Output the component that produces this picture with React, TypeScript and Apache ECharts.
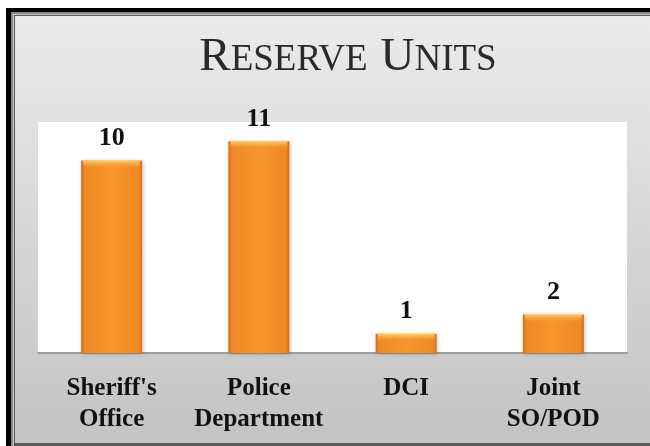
import React, { useEffect, useRef } from "react";
import * as echarts from "echarts";

const categories = ["Sheriff's\nOffice", "Police\nDepartment", "DCI", "Joint\nSO/POD"];
const values = [10, 11, 1, 2];
const yMin = 0;
const yMax = 12;

export default function App() {
  const ref = useRef<HTMLDivElement>(null);
  useEffect(() => {
    document.body.style.margin = "0";
    const chart = echarts.init(ref.current!, null, { renderer: "svg" });
    const serif = "'Liberation Serif', 'Times New Roman', serif";
    const barGrad = new echarts.graphic.LinearGradient(0, 0, 1, 0, [
      { offset: 0, color: "#cf6f1c" },
      { offset: 0.06, color: "#ef8924" },
      { offset: 0.5, color: "#f7962c" },
      { offset: 0.94, color: "#ef8924" },
      { offset: 1, color: "#cf6f1c" },
    ]);
    chart.setOption({
      animation: false,
      backgroundColor: "transparent",
      graphic: [
        { type: "rect", z: -10, shape: { x: 6, y: 8, width: 700, height: 440 }, style: { fill: "#000" } },
        { type: "rect", z: -9, shape: { x: 11, y: 12, width: 700, height: 434 }, style: { fill: "#8a8a8a" } },
        { type: "rect", z: -9, shape: { x: 13, y: 14, width: 700, height: 432 }, style: { fill: "#c8c8c8" } },
        { type: "rect", z: -9, shape: { x: 14, y: 15, width: 700, height: 431 }, style: { fill: "#5a5a5a" } },
        {
          type: "rect",
          z: -8,
          shape: { x: 15, y: 16, width: 700, height: 427 },
          style: {
            fill: new echarts.graphic.LinearGradient(0, 0, 0, 1, [
              { offset: 0, color: "#ebebeb" },
              { offset: 1, color: "#c3c3c3" },
            ]),
          },
        },
        {
          type: "text",
          z: 10,
          x: 348,
          y: 77,
          style: {
            text: "{a|R}{b|ESERVE}{s|\u00a0}{a|U}{b|NITS}",
            align: "center",
            verticalAlign: "bottom",
            fill: "#2a2a2a",
            rich: {
              a: { fontFamily: serif, fontSize: 47, lineHeight: 47, verticalAlign: "bottom", fill: "#2a2a2a" },
              b: { fontFamily: serif, fontSize: 37, lineHeight: 37, verticalAlign: "bottom", fill: "#2a2a2a", padding: [0, 0, 1, 0] },
              s: { fontFamily: serif, fontSize: 47, lineHeight: 47, width: 13, verticalAlign: "bottom" },
            },
          },
        },
      ],
      grid: {
        left: 38,
        right: 23,
        top: 122,
        bottom: 93,
        show: true,
        backgroundColor: "#ffffff",
        borderWidth: 0,
      },
      xAxis: {
        type: "category",
        data: categories,
        axisLine: { show: true, lineStyle: { color: "#9c9c9c", width: 2 } },
        axisTick: { show: false },
        axisLabel: {
          interval: 0,
          margin: 18,
          fontFamily: serif,
          fontWeight: "bold",
          fontSize: 25,
          lineHeight: 31,
          color: "#111",
        },
      },
      yAxis: {
        type: "value",
        min: yMin,
        max: yMax,
        show: false,
        splitLine: { show: false },
      },
      series: [
        {
          type: "bar",
          data: values,
          barWidth: 61,
          itemStyle: {
            color: barGrad,
            shadowColor: "rgba(0,0,0,0.25)",
            shadowBlur: 4,
            shadowOffsetX: 1,
            shadowOffsetY: 1,
          },
          label: {
            show: true,
            position: "top",
            distance: 11,
            fontFamily: serif,
            fontWeight: "bold",
            fontSize: 26,
            color: "#111",
          },
        },
        {
          type: "custom",
          data: values.map((v, i) => [i, v]),
          z: 5,
          silent: true,
          renderItem: (params: any, api: any) => {
            const top = api.coord([api.value(0), api.value(1)]);
            const base = api.coord([api.value(0), 0]);
            const w = 61;
            const h = Math.min(8, base[1] - top[1]);
            return {
              type: "rect",
              shape: { x: top[0] - w / 2 + 2, y: top[1], width: w - 4, height: h },
              style: {
                fill: new echarts.graphic.LinearGradient(0, 0, 0, 1, [
                  { offset: 0, color: "rgba(255,214,120,0.95)" },
                  { offset: 1, color: "rgba(247,150,44,0)" },
                ]),
              },
            };
          },
        },
      ],
    });
    return () => chart.dispose();
  }, []);
  return <div ref={ref} style={{ position: "fixed", left: 0, top: 0, width: 650, height: 446 }} />;
}
